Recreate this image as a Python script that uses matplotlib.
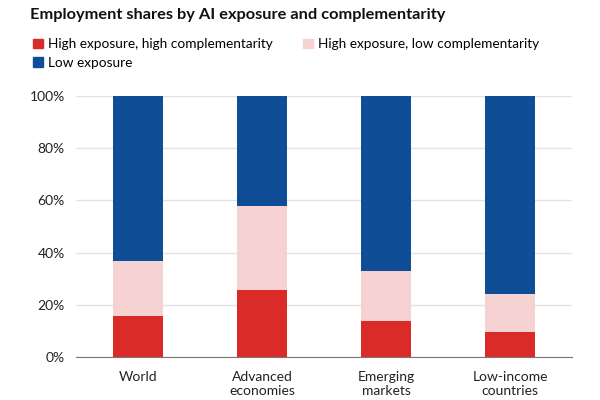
import matplotlib.pyplot as plt
from matplotlib.patches import Patch
from matplotlib.ticker import PercentFormatter

plt.rcParams['font.family'] = ['Lato', 'DejaVu Sans']

# Data (percent of employment)
categories = ['World', 'Advanced\neconomies', 'Emerging\nmarkets', 'Low-income\ncountries']
high_high = [15.7, 25.8, 13.9, 9.6]
high_low = [21.0, 32.1, 19.2, 14.7]
low_exposure = [63.3, 42.1, 66.9, 75.7]

series_names = ['High exposure, high complementarity',
                'High exposure, low complementarity',
                'Low exposure']
colors = ['#DB2B28', '#F6D3D2', '#0F4E97']

fig = plt.figure(figsize=(6, 4), dpi=100)
ax = fig.add_axes([76 / 600, 1 - 357 / 400, 496 / 600, 261 / 400])

x = range(len(categories))
bottom = [0] * len(categories)
for vals, col in zip([high_high, high_low, low_exposure], colors):
    ax.bar(x, vals, bottom=bottom, width=0.4, color=col, zorder=2)
    bottom = [b + v for b, v in zip(bottom, vals)]

ax.set_xlim(-0.5, 3.5)
ax.set_ylim(0, 100)
ax.set_yticks([0, 20, 40, 60, 80, 100])
ax.yaxis.set_major_formatter(PercentFormatter(decimals=0))
ax.set_xticks(list(x))
ax.set_xticklabels(categories)
ax.grid(axis='y', color='#E3E3E3', linewidth=1, zorder=0)
for s in ['top', 'right', 'left']:
    ax.spines[s].set_visible(False)
ax.spines['bottom'].set_color('#777777')
ax.tick_params(axis='both', length=0, labelsize=10, colors='#222222')
ax.tick_params(axis='x', pad=10)
ax.tick_params(axis='y', pad=8)

fig.text(30 / 600, 1 - 15 / 400, 'Employment shares by AI exposure and complementarity',
         fontsize=11.8, fontweight='bold', va='center', color='#111111')

# legend fills column-wise, so order handles to read row-wise
handles = [Patch(color=c, label=n) for c, n in zip(colors, series_names)]
handles = [handles[0], handles[2], handles[1]]
fig.legend(handles=handles, loc='upper left', bbox_to_anchor=(28 / 600, 1 - 33 / 400),
           ncol=2, frameon=False, fontsize=9.8, handlelength=0.7, handleheight=0.7,
           handletextpad=0.4, columnspacing=2.2, labelspacing=0.45, borderaxespad=0)

fig.savefig('out.png', dpi=100)
